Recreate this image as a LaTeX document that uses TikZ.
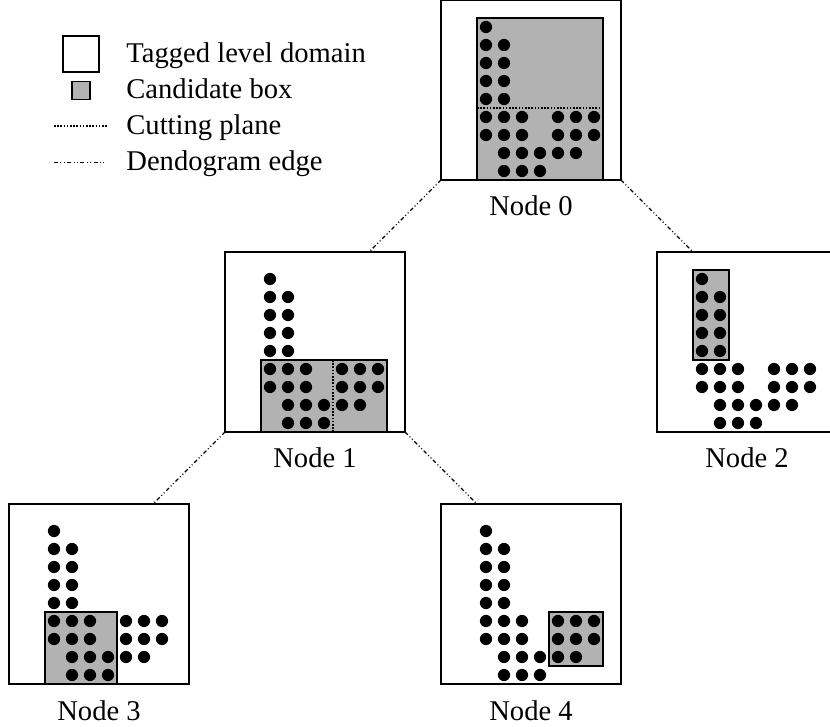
\documentclass[tikz,border=0pt]{standalone}
\usepackage{fontspec}
\setmainfont{Liberation Serif}
\usetikzlibrary{calc}

\tikzset{
  panel/.style={draw, line width=1pt, fill=white, minimum size=90pt, inner sep=0pt, outer sep=0pt},
  candidato/.style={draw, line width=0.8pt, fill=black!30},
  corte/.style={line width=0.9pt, dash pattern=on 0.8pt off 0.8pt},
  arista/.style={line width=0.55pt, dash pattern=on 2pt off 1.2pt on 0.5pt off 1.2pt on 0.5pt off 1.2pt},
  etiqueta/.style={font=\fontsize{14.3}{17}\selectfont, inner sep=0pt}
}
% Puntos marcados (columnas/filas de la malla)
\newcommand{\puntos}{%
  \foreach \c/\r in {0/0, 0/1,1/1, 0/2,1/2, 0/3,1/3, 0/4,1/4,
      0/5,1/5,2/5,4/5,5/5,6/5, 0/6,1/6,2/6,4/6,5/6,6/6,
      1/7,2/7,3/7,4/7,5/7, 1/8,2/8,3/8}
    \fill ({2.5+\c},{8.5-\r}) circle (0.34);}

\begin{document}
\begin{tikzpicture}[x=9pt, y=9pt]
  \useasboundingbox (0,0) rectangle (46.111,-40.389);
  \clip (0,0) rectangle (46.111,-40.389);
  % Leyenda
  \node[draw, line width=0.6pt, minimum size=18pt, inner sep=0pt] (leydom) at (4.5,-3) {};
  \node[draw, line width=0.6pt, fill=black!30, minimum size=9pt, inner sep=0pt] (leycand) at (4.5,-5.03) {};
  \draw[corte] (3,-7) -- (6,-7);
  \draw[arista] (3,-9.04) -- (5.9,-9.04);
  \node[etiqueta, anchor=base west] (tdom) at (7,-3.5) {Tagged level domain};
  \node[etiqueta, anchor=base west] (tcand) at (7,-5.5) {Candidate box};
  \node[etiqueta, anchor=base west] (tcorte) at (7,-7.5) {Cutting plane};
  \node[etiqueta, anchor=base west] (tarista) at (7,-9.5) {Dendogram edge};
  % Dominios
  \node[panel] (n0) at (29.5,-5) {};
  \node[panel] (n1) at (17.5,-19) {};
  \node[panel] (n2) at (41.5,-19) {};
  \node[panel] (n3) at (5.5,-33) {};
  \node[panel] (n4) at (29.5,-33) {};
  \foreach \n in {0,...,4}
    \path (n\n.south) ++(0,-2) node[etiqueta, anchor=base] (l\n) {Node \n};
  % Aristas del dendograma
  \draw[arista] (n0.south west) -- ($(n1.north west)+(8,0)$);
  \draw[arista] (n0.south east) -- ($(n2.north west)+(2,0)$);
  \draw[arista] (n1.south west) -- ($(n3.north west)+(8,0)$);
  \draw[arista] (n1.south east) -- ($(n4.north west)+(2,0)$);
  % Nodo 0
  \begin{scope}[shift={(n0.south west)}]
    \draw[candidato] (2,0) rectangle (9,9);
    \draw[corte] (2,4) -- (9,4);
    \puntos
  \end{scope}
  % Nodo 1
  \begin{scope}[shift={(n1.south west)}]
    \draw[candidato] (2,0) rectangle (9,4);
    \draw[corte] (6,0) -- (6,4);
    \puntos
  \end{scope}
  % Nodo 2
  \begin{scope}[shift={(n2.south west)}]
    \draw[candidato] (2,4) rectangle (4,9);
    \puntos
  \end{scope}
  % Nodo 3
  \begin{scope}[shift={(n3.south west)}]
    \draw[candidato] (2,0) rectangle (6,4);
    \puntos
  \end{scope}
  % Nodo 4
  \begin{scope}[shift={(n4.south west)}]
    \draw[candidato] (6,1) rectangle (9,4);
    \puntos
  \end{scope}
\end{tikzpicture}
\end{document}
